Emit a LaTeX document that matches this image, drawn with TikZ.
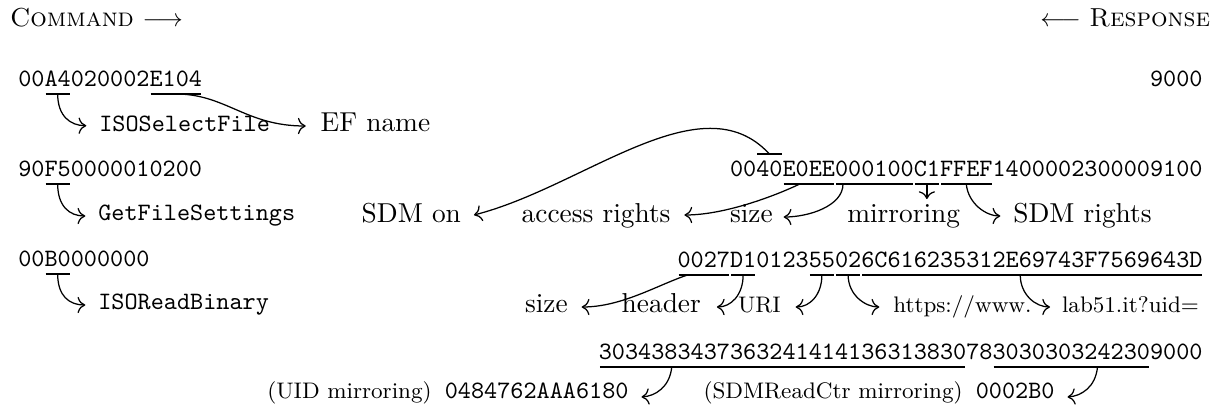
\documentclass[tikz,border=0pt]{standalone}
\usetikzlibrary{calc,arrows.meta}
\tikzset{
  hex/.style={font=\fontsize{10}{12}\selectfont\ttfamily, inner sep=0pt, outer sep=0pt, anchor=base west},
  lbl/.style={font=\fontsize{10.95}{13.6}\selectfont, inner sep=0pt, outer sep=0pt, anchor=base west},
  slbl/.style={font=\fontsize{9}{11}\selectfont, inner sep=0pt, outer sep=0pt, anchor=base west},
  toplbl/.style={font=\fontsize{10.4}{12.5}\selectfont, inner sep=0pt, outer sep=0pt, anchor=base west},
  ulin/.style={line width=0.75pt},
  conn/.style={-{To[scale=1.15]}, line width=0.5pt},
}
\newcommand\segline[2]{\draw[ulin] ($(#1.base west)+(1,#2)$) -- ($(#1.base east)+(-1,#2)$);}
\begin{document}
\begin{tikzpicture}[x=0.4pt,y=-0.4pt]
\useasboundingbox (0,0) rectangle (1218,411);
% headings
\node[toplbl] (cmd) at (10,27) {\textsc{Command} $\longrightarrow$};
\node[toplbl, anchor=base east] (resp) at (1210,27) {$\longleftarrow$ \textsc{Response}};
% ---- row 1
\node[hex] (r1a) at (18.3,87) {00};
\node[hex] (r1b) at (r1a.base east) {A4};
\node[hex] (r1c) at (r1b.base east) {020002};
\node[hex] (r1d) at (r1c.base east) {E104};
\segline{r1b}{7}\segline{r1d}{7}
\node[hex] (isosel) at (99.3,131.7) {ISOSelectFile};
\node[lbl] (efname) at (320.7,132) {EF name};
\node[hex, anchor=base east] (ok1) at (1202.5,87) {9000};
\draw[conn] ($(r1b.base)+(0,7)$) .. controls +(0,22) and +(-16,0) .. ($(isosel.base west)+(-13,-6)$);
\draw[conn] ($(r1d.base)+(0,7)$) .. controls +(50,0) and +(-60,0) .. ($(efname.base west)+(-15,-6)$);
% ---- row 2 command
\node[hex] (r2a) at (18.3,177) {90};
\node[hex] (r2b) at (r2a.base east) {F5};
\node[hex] (r2c) at (r2b.base east) {0000010200};
\segline{r2b}{7}
\node[hex] (getfs) at (98.3,221) {GetFileSettings};
\draw[conn] ($(r2b.base)+(0,7)$) .. controls +(0,22) and +(-16,0) .. ($(getfs.base west)+(-13,-5)$);
% ---- row 2 response
\node[hex] (s2a) at (730,177) {00};
\node[hex] (s2b) at (s2a.base east) {40};
\node[hex] (s2c) at (s2b.base east) {E0EE};
\node[hex] (s2d) at (s2c.base east) {000100};
\node[hex] (s2e) at (s2d.base east) {C1};
\node[hex] (s2f) at (s2e.base east) {FFEF};
\node[hex] (s2g) at (s2f.base east) {1400002300009100};
\segline{s2b}{-23}\segline{s2c}{7}\segline{s2d}{7}\segline{s2e}{7}\segline{s2f}{7}
\node[lbl] (sdmon) at (361.7,223) {SDM on};
\node[lbl] (access) at (521.7,223) {access rights};
\node[lbl] (size1) at (730,223) {size};
\node[lbl] (mirror) at (847.3,223) {mirroring};
\node[lbl] (sdmrights) at (1013.3,223) {SDM rights};
\draw[conn] ($(s2b.base)+(0,-23)$) .. controls +(-68,-74) and +(110,-28) .. ($(sdmon.base east)+(13,-8)$);
\draw[conn] ($(s2c.base)+(-9,7)$) .. controls +(-25,12) and +(40,0) .. ($(access.base east)+(14,-8)$);
\draw[conn] ($(s2d.base west)+(8,7)$) .. controls +(0,22) and +(25,0) .. ($(size1.base east)+(11,-6)$);
\draw[conn] ($(s2e.base)+(0,7)$) -- ($(mirror.north -| s2e.base)+(0,-6)$);
\draw[conn] ($(s2f.base)+(0,7)$) .. controls +(2,20) and +(-14,0) .. ($(sdmrights.base west)+(-13,-7)$);
% ---- row 3 command
\node[hex] (r3a) at (18.3,267) {00};
\node[hex] (r3b) at (r3a.base east) {B0};
\node[hex] (r3c) at (r3b.base east) {000000};
\segline{r3b}{7}
\node[hex] (isoread) at (98.3,310) {ISOReadBinary};
\draw[conn] ($(r3b.base)+(0,7)$) .. controls +(0,22) and +(-16,0) .. ($(isoread.base west)+(-13,-5)$);
% ---- row 3 response
\node[hex] (t3a) at (677.5,268) {0027};
\node[hex] (t3b) at (t3a.base east) {D1};
\node[hex] (t3c) at (t3b.base east) {0123};
\node[hex] (t3d) at (t3c.base east) {55};
\node[hex] (t3e) at (t3d.base east) {02};
\node[hex] (t3f) at (t3e.base east) {6C616235312E69743F7569643D};
\segline{t3a}{7}\segline{t3b}{7}\segline{t3d}{7}\segline{t3e}{7}\segline{t3f}{7}
\node[lbl] (size2) at (525,313) {size};
\node[lbl] (header) at (621.7,313) {header};
\node[slbl] (uri) at (738,313) {URI};
\node[slbl] (https) at (893.3,313) {https://www.};
\node[slbl] (lab) at (1062,313) {lab51.it?uid=};
\draw[conn] ($(t3a.base west)+(10,7)$) .. controls +(-30,10) and +(40,0) .. ($(size2.base east)+(14,-6)$);
\draw[conn] ($(t3b.base)+(0,7)$) .. controls +(0,20) and +(14,0) .. ($(header.base east)+(16,-6)$);
\draw[conn] ($(t3d.base)+(0,7)$) .. controls +(0,20) and +(14,0) .. ($(uri.base east)+(15,-6)$);
\draw[conn] ($(t3e.base)+(0,7)$) .. controls +(0,20) and +(-14,0) .. ($(https.base west)+(-14,-6)$);
\draw[conn] ($(t3f.base west)+(159,7)$) .. controls +(0,20) and +(-14,0) .. ($(lab.base west)+(-12,-6)$);
% ---- row 4 response
\node[hex] (u4a) at (598.75,360) {3034383437363241414136313830};
\node[hex] (u4b) at (u4a.base east) {78};
\node[hex] (u4c) at (u4b.base east) {303030324230};
\node[hex] (u4d) at (u4c.base east) {9000};
\segline{u4a}{7}\segline{u4c}{7}
\node[hex, anchor=base east] (uid) at (628.5,399) {{\fontsize{9}{11}\rmfamily (UID mirroring)} 0484762AAA6180};
\node[hex, anchor=base east] (ctr) at (1054.5,399) {{\fontsize{9}{11}\rmfamily (SDMReadCtr mirroring)} 0002B0};
\draw[conn] ($(u4a.base west)+(73,7)$) .. controls +(-2,20) and +(14,-1) .. ($(uid.base east)+(13,-2)$);
\draw[conn] ($(u4c.base west)+(105,7)$) .. controls +(-2,20) and +(14,-1) .. ($(ctr.base east)+(13,-2)$);
\end{tikzpicture}
\end{document}
